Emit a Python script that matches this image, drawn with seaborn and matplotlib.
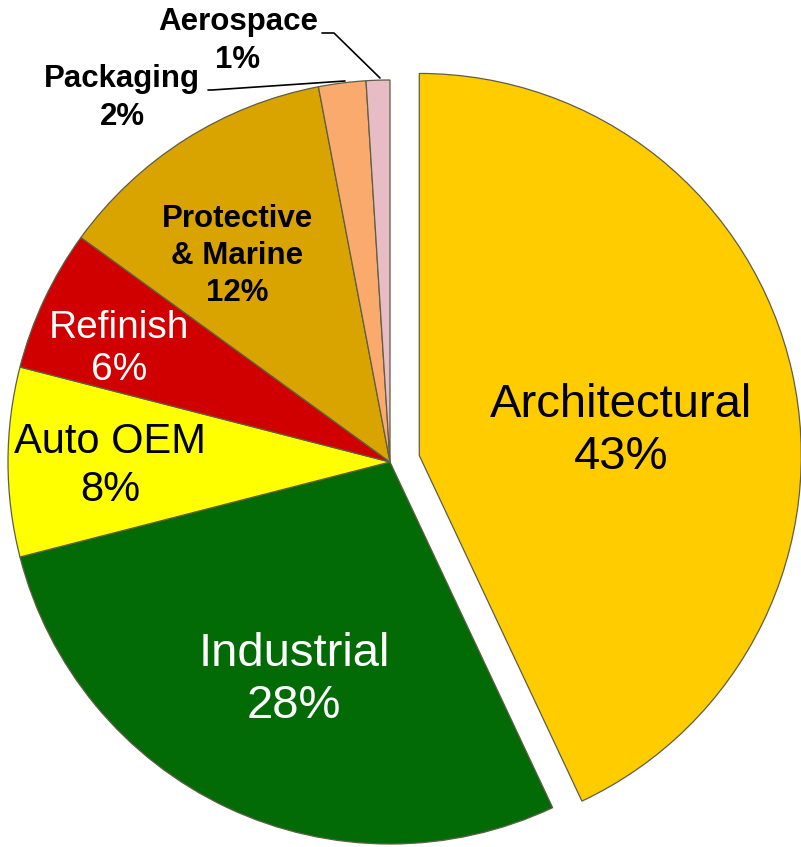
import matplotlib
matplotlib.use("Agg")
import matplotlib.pyplot as plt
import seaborn as sns

# Coatings market by segment (%)
segments = ["Architectural", "Industrial", "Auto OEM", "Refinish",
            "Protective\n& Marine", "Packaging", "Aerospace"]
shares = [43, 28, 8, 6, 12, 2, 1]

sns.set_theme(style="white")
plt.rcParams["font.family"] = ["Liberation Sans", "DejaVu Sans"]

colors = sns.color_palette(["#FFCC00", "#036B06", "#FFFF00", "#D00000",
                            "#D9A400", "#FBAA6E", "#E8BCC4"])

W, H = 801, 847
fig = plt.figure(figsize=(W / 100, H / 100), dpi=100)
ax = fig.add_axes([0, 0, 1, 1])

cx, cy, R = 390, H - 462, 382
explode = [30, 0, 0, 0, 0, 0, 0]
wedges, _ = ax.pie(shares, colors=colors, startangle=90, counterclock=False,
                   center=(cx, cy), radius=R, explode=explode,
                   wedgeprops=dict(edgecolor="#5e5e45", linewidth=0.9),
                   frame=True)
ax.set_xlim(0, W)
ax.set_ylim(0, H)
ax.set_aspect("equal")
ax.axis("off")

# label layout: (x, y, size, weight, color)
layout = [
    (621, H - 431, 34, "normal", "black"),
    (294, H - 680, 34, "normal", "white"),
    (110, H - 466, 30, "normal", "black"),
    (119, H - 349, 28, "normal", "white"),
    (237, H - 256, 22.5, "bold", "black"),
    (122, H - 98, 22.5, "bold", "black"),
    (238, H - 41, 22.5, "bold", "black"),
]
for name, val, (x, y, s, w, c) in zip(segments, shares, layout):
    ax.text(x, y, f"{name}\n{val}%", ha="center", va="center", fontsize=s,
            fontweight=w, color=c, linespacing=1.32 if w == "bold" else 1.24)

# leader lines for the thin slices
ax.plot([208, 212, 345], [H - 90, H - 90, H - 81], color="black", lw=1.2)
ax.plot([322, 334, 380], [H - 33, H - 33, H - 78], color="black", lw=1.2)

fig.savefig("out.png", dpi=100)
